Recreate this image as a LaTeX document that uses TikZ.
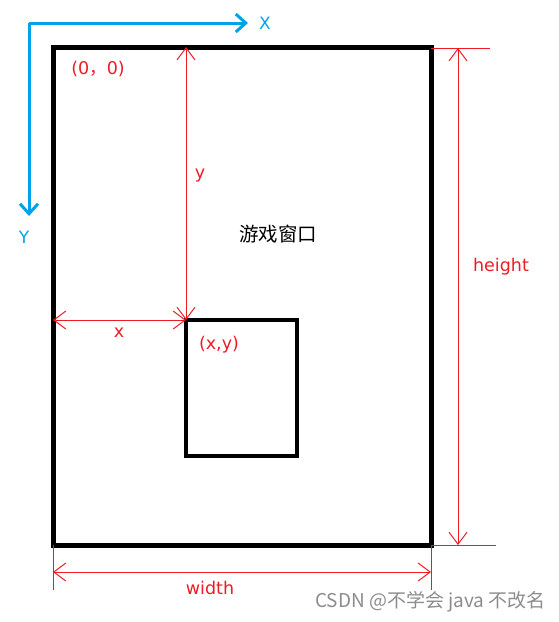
\documentclass[tikz,border=0pt]{standalone}
\usepackage{fontspec}
\setmainfont{DejaVu Sans}
\newfontfamily\cjk{Noto Sans CJK SC}
\usetikzlibrary{arrows.meta,positioning}
\definecolor{PaintRed}{RGB}{237,28,36}
\definecolor{PaintBlue}{RGB}{0,162,232}
\definecolor{MarkGray}{RGB}{140,140,140}
\tikzstyle{Window} = [draw, rectangle, line width=5pt, inner sep=0pt, outer sep=0pt]
\tikzstyle{Axis} = [PaintBlue, line width=3pt, -{Straight Barb[length=10pt,width=18pt]}]
\tikzstyle{AxisText} = [PaintBlue, inner sep=0pt, font=\fontsize{17}{20}\selectfont]
\tikzstyle{Dim} = [PaintRed, line width=1pt]
\tikzstyle{DimArrow} = [Dim, {Straight Barb[length=12pt,width=18pt]}-{Straight Barb[length=12pt,width=18pt]}]
\tikzstyle{Label} = [PaintRed, inner sep=0pt, font=\fontsize{17.5}{20}\selectfont]
\tikzstyle{Mark} = [MarkGray, inner sep=0pt, font=\cjk\fontsize{19}{22}\selectfont]

\begin{document}
\begin{tikzpicture}[x=1pt,y=-1pt]
    \useasboundingbox (0,0) rectangle (558,622);
    \node[Window, minimum width=378pt, minimum height=498pt] (window) at (242,296) {};
    \node[Window, line width=4.5pt, minimum width=111pt, minimum height=136pt] (sprite) at (241.5,388) {};
    \coordinate (origin) at (29,23);
    \coordinate (xend)   at (248,23);
    \coordinate (yend)   at (29,216);
    \draw[Axis] (origin) to (xend);
    \draw[Axis] (origin) to (yend);
    \node[AxisText] (xname) [right=11pt of xend] {X};
    \node[AxisText] (yname) at (24,237) {Y};
    \coordinate (corner) at (sprite.north west);
    \draw[DimArrow] (corner |- window.north) to (corner);
    \draw[DimArrow] (window.west |- corner) to (corner);
    \coordinate (htop)   at (490,48);
    \coordinate (hbot)   at (496,545);
    \coordinate (hup)    at (458,48);
    \coordinate (hdown)  at (458,545);
    \draw[Dim] (window.north east |- htop) to (htop);
    \draw[Dim] (window.south east) to (hbot);
    \draw[DimArrow] (hup) to (hdown);
    \coordinate (wleft)  at (53,590);
    \coordinate (wright) at (431,590);
    \coordinate (wl)     at (53,572);
    \coordinate (wr)     at (431,572);
    \draw[Dim] (window.south west) to (wleft);
    \draw[Dim] (window.south east) to (wright);
    \draw[DimArrow] (wl) to (wr);
    \node[Label] (zero)   at (98,69)   {(0{\cjk ，}0)};
    \node[Label] (ylabel) at (200,176) {y};
    \node[Label] (xlabel) at (119,333) {x};
    \node[Label] (point)  at (219,345) {(x,y)};
    \node[inner sep=0pt, font=\cjk\fontsize{19.5}{22}\selectfont] (title) at (278,234) {游戏窗口};
    \node[Label] (hlabel) at (501,267) {height};
    \node[Label] (wlabel) at (210,588) {width};
    \node[Mark, anchor=east] (mark) at (546,602) {CSDN @不学会 java 不改名};
\end{tikzpicture}
\end{document}
